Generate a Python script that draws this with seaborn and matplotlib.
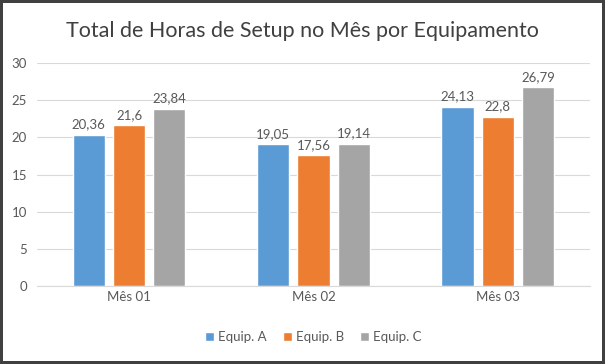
import pandas as pd
import matplotlib.pyplot as plt
import seaborn as sns

# Chart data
months = ["Mês 01", "Mês 02", "Mês 03"]
equip_a = [20.36, 19.05, 24.13]
equip_b = [21.6, 17.56, 22.8]
equip_c = [23.84, 19.14, 26.79]
series_names = ["Equip. A", "Equip. B", "Equip. C"]
colors = ["#5B9BD5", "#ED7D31", "#A5A5A5"]
yticks = [0, 5, 10, 15, 20, 25, 30]

text_color = "#595959"


def main():
    sns.set_style("white")
    plt.rcParams["font.family"] = ["Lato", "DejaVu Sans"]

    df = pd.DataFrame({
        "Mês": months * 3,
        "Equipamento": [s for s in series_names for _ in months],
        "Horas": equip_a + equip_b + equip_c,
    })

    fig = plt.figure(figsize=(6.05, 3.64), dpi=100)
    fig.patch.set_facecolor("white")
    fig.patch.set_edgecolor("#404040")
    fig.patch.set_linewidth(3)
    ax = fig.add_axes([0.061, 0.214, 0.914, 0.613])

    sns.barplot(
        data=df, x="Mês", y="Horas", hue="Equipamento",
        palette=colors, width=0.656, gap=0.2, ax=ax,
        saturation=1, legend=True,
    )

    for cont in ax.containers:
        labels = [f"{v:g}".replace(".", ",") for v in cont.datavalues]
        ax.bar_label(cont, labels=labels, padding=3, fontsize=9.5, color=text_color)

    ax.set_ylim(0, 30)
    ax.set_yticks(yticks)
    ax.yaxis.grid(True, color="#D9D9D9", linewidth=0.8)
    ax.set_axisbelow(True)
    for side in ["left", "right", "top"]:
        ax.spines[side].set_visible(False)
    ax.spines["bottom"].set_color("#D9D9D9")
    ax.tick_params(axis="both", length=0, labelsize=9.5, labelcolor=text_color)
    ax.tick_params(axis="y", pad=7)
    ax.set_xlabel("")
    ax.set_ylabel("")
    ax.set_xlim(-0.5, 2.5)

    ax.legend(
        loc="center", bbox_to_anchor=(0.5, -0.23), ncol=3, frameon=False,
        fontsize=9.5, labelcolor=text_color, handlelength=0.7, handleheight=0.7,
        handletextpad=0.3, columnspacing=1.2,
    )

    fig.text(0.5, 0.915, "Total de Horas de Setup no Mês por Equipamento",
             ha="center", va="center", fontsize=15.5, color="#404040")

    fig.savefig("out.png", dpi=100)


if __name__ == "__main__":
    main()
